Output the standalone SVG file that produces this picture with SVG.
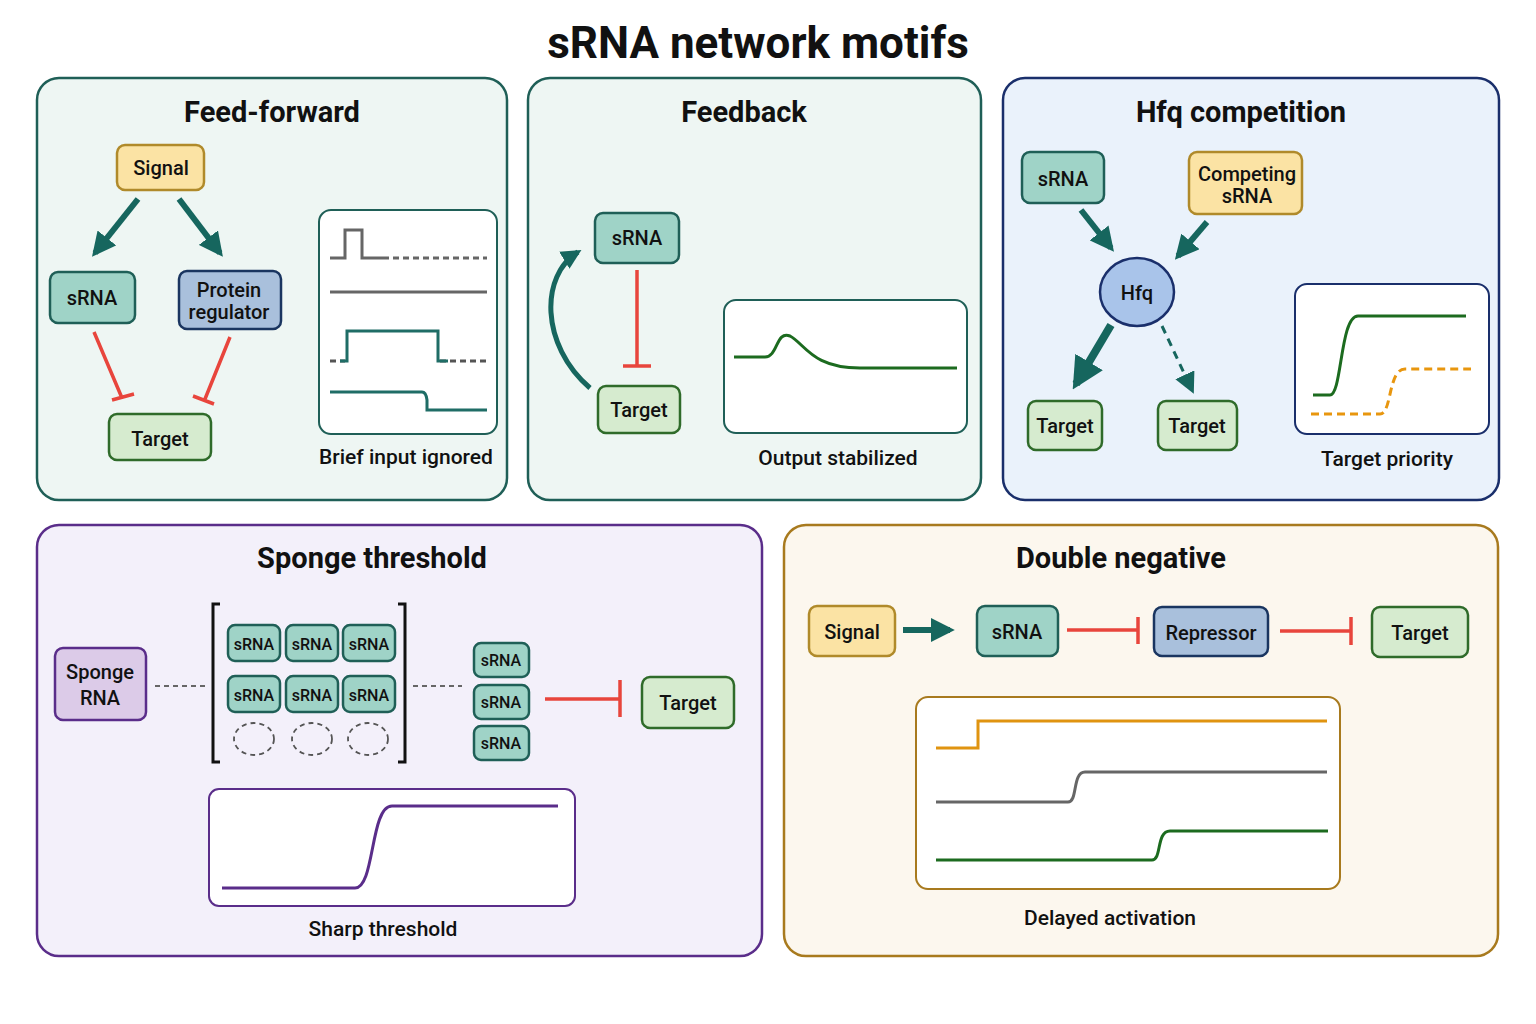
<svg xmlns="http://www.w3.org/2000/svg" width="1536" height="1024" viewBox="0 0 1536 1024">
<defs>
<style>
text{font-family:Roboto,"Liberation Sans",sans-serif;fill:#111;text-anchor:middle}
.t{font-size:32px;font-weight:700}
.h{font-size:29px;font-weight:700}
.l{font-size:20px;font-weight:500}
.s{font-size:16px;font-weight:500}
.cap{font-size:21px;font-weight:500}
.sig{fill:#fbe3a4;stroke:#b08a2a;stroke-width:2.5}
.srna{fill:#9fd3c7;stroke:#1f5f57;stroke-width:2.5}
.prot{fill:#a9c0dc;stroke:#1a3560;stroke-width:2.5}
.tgt{fill:#d6ebcf;stroke:#2f6b2a;stroke-width:2.5}
.spg{fill:#dccbe8;stroke:#5a2d8a;stroke-width:2.5}
.box{fill:#fff;stroke-width:2}
.act{stroke:#16665e;stroke-width:6;fill:none}
.inh{stroke:#e8453c;stroke-width:3.5;fill:none}
.plot{fill:none;stroke-width:3}
</style>
<marker id="ah" viewBox="0 0 10 10" refX="8" refY="5" markerWidth="4" markerHeight="4" orient="auto"><path d="M0,0L10,5L0,10z" fill="#16665e"/></marker>
<marker id="ah2" viewBox="0 0 10 10" refX="8" refY="5" markerWidth="7" markerHeight="7" orient="auto"><path d="M0,0L10,5L0,10z" fill="#16665e"/></marker>
</defs>
<rect width="1536" height="1024" fill="#fff"/>
<text class="t" x="758" y="58" style="font-size:44px">sRNA network motifs</text>

<g id="panel-ff">
<rect x="37" y="78" width="470" height="422" rx="22" fill="#eef6f3" stroke="#1f5f57" stroke-width="2.5"/>
<text class="h" x="272" y="122">Feed-forward</text>
<g id="ff-signal"><rect class="sig" x="117" y="145" width="87" height="45" rx="8"/><text class="l" x="161" y="175">Signal</text></g>
<g id="ff-srna"><rect class="srna" x="50" y="272" width="85" height="51" rx="8"/><text class="l" x="92" y="305">sRNA</text></g>
<g id="ff-prot"><rect class="prot" x="179" y="271" width="102" height="58" rx="8"/><text class="l" x="229" y="297">Protein</text><text class="l" x="229" y="319">regulator</text></g>
<g id="ff-target"><rect class="tgt" x="109" y="414" width="102" height="46" rx="8"/><text class="l" x="160" y="446">Target</text></g>
<g id="ff-plot"><rect class="box" x="319" y="210" width="178" height="224" rx="12" stroke="#1f5f57"/>
<path class="plot" stroke="#666" d="M330,258H345V230H362V258H383"/><path class="plot" stroke="#666" stroke-dasharray="6,4" stroke-width="2" d="M383,258H487"/>
<path class="plot" stroke="#666" d="M330,292H487"/>
<path class="plot" stroke="#555" stroke-dasharray="6,4" stroke-width="2" d="M330,361H345M440,361H487"/>
<path class="plot" stroke="#1f6d66" d="M340,361H347V331H438V361H448"/>
<path class="plot" stroke="#1f6d66" d="M330,392H422Q426,392 427,400V410H487"/>
<text class="cap" x="406" y="464">Brief input ignored</text></g>
</g>

<g id="panel-fb">
<rect x="528" y="78" width="453" height="422" rx="22" fill="#eef6f3" stroke="#1f5f57" stroke-width="2.5"/>
<text class="h" x="744" y="122">Feedback</text>
<g id="fb-srna"><rect class="srna" x="595" y="213" width="84" height="50" rx="8"/><text class="l" x="637" y="245">sRNA</text></g>
<g id="fb-target"><rect class="tgt" x="598" y="386" width="82" height="47" rx="8"/><text class="l" x="639" y="417">Target</text></g>
<g id="fb-plot"><rect class="box" x="724" y="300" width="243" height="133" rx="12" stroke="#1f5f57"/>
<path class="plot" stroke="#1c6b1f" d="M734,357H765C778,357 776,330 790,336C805,344 812,368 860,368H957"/>
<text class="cap" x="838" y="465">Output stabilized</text></g>
</g>

<g id="panel-hfq">
<rect x="1003" y="78" width="496" height="422" rx="22" fill="#eaf2fb" stroke="#1a2f6b" stroke-width="2.5"/>
<text class="h" x="1241" y="122">Hfq competition</text>
<g id="h-srna"><rect class="srna" x="1022" y="152" width="82" height="51" rx="8"/><text class="l" x="1063" y="186">sRNA</text></g>
<g id="h-comp"><rect class="sig" x="1189" y="152" width="113" height="62" rx="8"/><text class="l" x="1247" y="181">Competing</text><text class="l" x="1247" y="203">sRNA</text></g>
<g id="h-hfq"><ellipse cx="1137" cy="292" rx="37" ry="34" fill="#a9c4ea" stroke="#1a2f6b" stroke-width="2.5"/><text class="l" x="1137" y="300">Hfq</text></g>
<g id="h-t1"><rect class="tgt" x="1028" y="401" width="74" height="49" rx="8"/><text class="l" x="1065" y="433">Target</text></g>
<g id="h-t2"><rect class="tgt" x="1158" y="401" width="79" height="49" rx="8"/><text class="l" x="1197" y="433">Target</text></g>
<g id="h-plot"><rect class="box" x="1295" y="284" width="194" height="150" rx="12" stroke="#1a2f6b"/>
<path class="plot" stroke="#1c6b1f" d="M1313,395H1330C1342,395 1340,316 1358,316H1466"/>
<path class="plot" stroke="#e8960e" stroke-dasharray="8,5" d="M1311,414H1380C1392,414 1388,369 1405,369H1471"/>
<text class="cap" x="1387" y="466">Target priority</text></g>
</g>

<g id="panel-sponge">
<rect x="37" y="525" width="725" height="431" rx="22" fill="#f3f0fa" stroke="#5a2d8a" stroke-width="2.5"/>
<text class="h" x="372" y="568">Sponge threshold</text>
<g id="sp-sponge"><rect class="spg" x="55" y="648" width="91" height="72" rx="8"/><text class="l" x="100" y="679">Sponge</text><text class="l" x="100" y="705">RNA</text></g>
<path d="M220,604H213V762H220M398,604H405V762H398" fill="none" stroke="#111" stroke-width="3"/>
<g id="sp-grid">
<rect class="srna" x="228" y="625" width="52" height="36" rx="7"/><text class="s" x="254" y="650">sRNA</text>
<rect class="srna" x="286" y="625" width="52" height="36" rx="7"/><text class="s" x="312" y="650">sRNA</text>
<rect class="srna" x="343" y="625" width="52" height="36" rx="7"/><text class="s" x="369" y="650">sRNA</text>
<rect class="srna" x="228" y="676" width="52" height="36" rx="7"/><text class="s" x="254" y="701">sRNA</text>
<rect class="srna" x="286" y="676" width="52" height="36" rx="7"/><text class="s" x="312" y="701">sRNA</text>
<rect class="srna" x="343" y="676" width="52" height="36" rx="7"/><text class="s" x="369" y="701">sRNA</text>
<g fill="none" stroke="#555" stroke-width="1.8" stroke-dasharray="5,4"><ellipse cx="254" cy="739" rx="20" ry="16"/><ellipse cx="312" cy="739" rx="20" ry="16"/><ellipse cx="368" cy="739" rx="20" ry="16"/></g>
</g>
<g id="sp-free">
<rect class="srna" x="474" y="643" width="55" height="34" rx="7"/><text class="s" x="501" y="666">sRNA</text>
<rect class="srna" x="474" y="685" width="55" height="34" rx="7"/><text class="s" x="501" y="708">sRNA</text>
<rect class="srna" x="474" y="726" width="55" height="34" rx="7"/><text class="s" x="501" y="749">sRNA</text>
</g>
<g id="sp-target"><rect class="tgt" x="642" y="677" width="92" height="51" rx="8"/><text class="l" x="688" y="710">Target</text></g>
<g id="sp-plot"><rect class="box" x="209" y="789" width="366" height="117" rx="10" stroke="#5a2d8a"/>
<path class="plot" stroke="#5a2d8a" d="M222,888H355C375,888 370,806 392,806H558"/>
<text class="cap" x="383" y="936">Sharp threshold</text></g>
</g>

<g id="panel-dn">
<rect x="784" y="525" width="714" height="431" rx="22" fill="#fcf7ee" stroke="#a87a1e" stroke-width="2.5"/>
<text class="h" x="1121" y="568">Double negative</text>
<g id="dn-signal"><rect class="sig" x="809" y="606" width="86" height="50" rx="8"/><text class="l" x="852" y="639">Signal</text></g>
<g id="dn-srna"><rect class="srna" x="977" y="606" width="81" height="50" rx="8"/><text class="l" x="1017" y="639">sRNA</text></g>
<g id="dn-rep"><rect class="prot" x="1154" y="607" width="114" height="49" rx="8"/><text class="l" x="1211" y="640">Repressor</text></g>
<g id="dn-target"><rect class="tgt" x="1372" y="607" width="96" height="50" rx="8"/><text class="l" x="1420" y="640">Target</text></g>
<g id="dn-plot"><rect class="box" x="916" y="697" width="424" height="192" rx="12" stroke="#a87a1e"/>
<path class="plot" stroke="#e09410" stroke-width="2.5" d="M936,748H978V721H1327"/>
<path class="plot" stroke="#666" stroke-width="2.5" d="M936,802H1068C1078,802 1072,772 1085,772H1327"/>
<path class="plot" stroke="#1c6b1f" stroke-width="2.5" d="M936,860H1152C1162,860 1156,831 1170,831H1328"/>
<text class="cap" x="1110" y="925">Delayed activation</text></g>
</g>

<g id="connectors">
<line class="act" x1="138" y1="199" x2="95" y2="253" marker-end="url(#ah)"/>
<line class="act" x1="179" y1="199" x2="220" y2="253" marker-end="url(#ah)"/>
<path class="inh" d="M94,332L122,398M112,400L134,394"/>
<path class="inh" d="M230,337L205,399M193,396L214,404"/>
<path class="inh" d="M637,270V366M623,366H651"/>
<path d="M590,388C540,345 540,275 578,252" fill="none" stroke="#16665e" stroke-width="5" marker-end="url(#ah)"/>
<line class="act" x1="1081" y1="210" x2="1111" y2="248" marker-end="url(#ah)"/>
<line class="act" x1="1207" y1="222" x2="1178" y2="256" marker-end="url(#ah)"/>
<line x1="1111" y1="325" x2="1076" y2="384" stroke="#16665e" stroke-width="8" marker-end="url(#ah)"/>
<line x1="1162" y1="326" x2="1192" y2="390" stroke="#16665e" stroke-width="3" stroke-dasharray="8,6" marker-end="url(#ah2)"/>
<path d="M155,686H205M413,686H462" stroke="#666" stroke-width="2" stroke-dasharray="5,4"/>
<path class="inh" d="M545,699H620M620,680V717"/>
<line class="act" x1="903" y1="630" x2="950" y2="630" marker-end="url(#ah)"/>
<path class="inh" d="M1067,630H1138M1138,617V644"/>
<path class="inh" d="M1280,631H1351M1351,617V645"/>
</g>
</svg>
